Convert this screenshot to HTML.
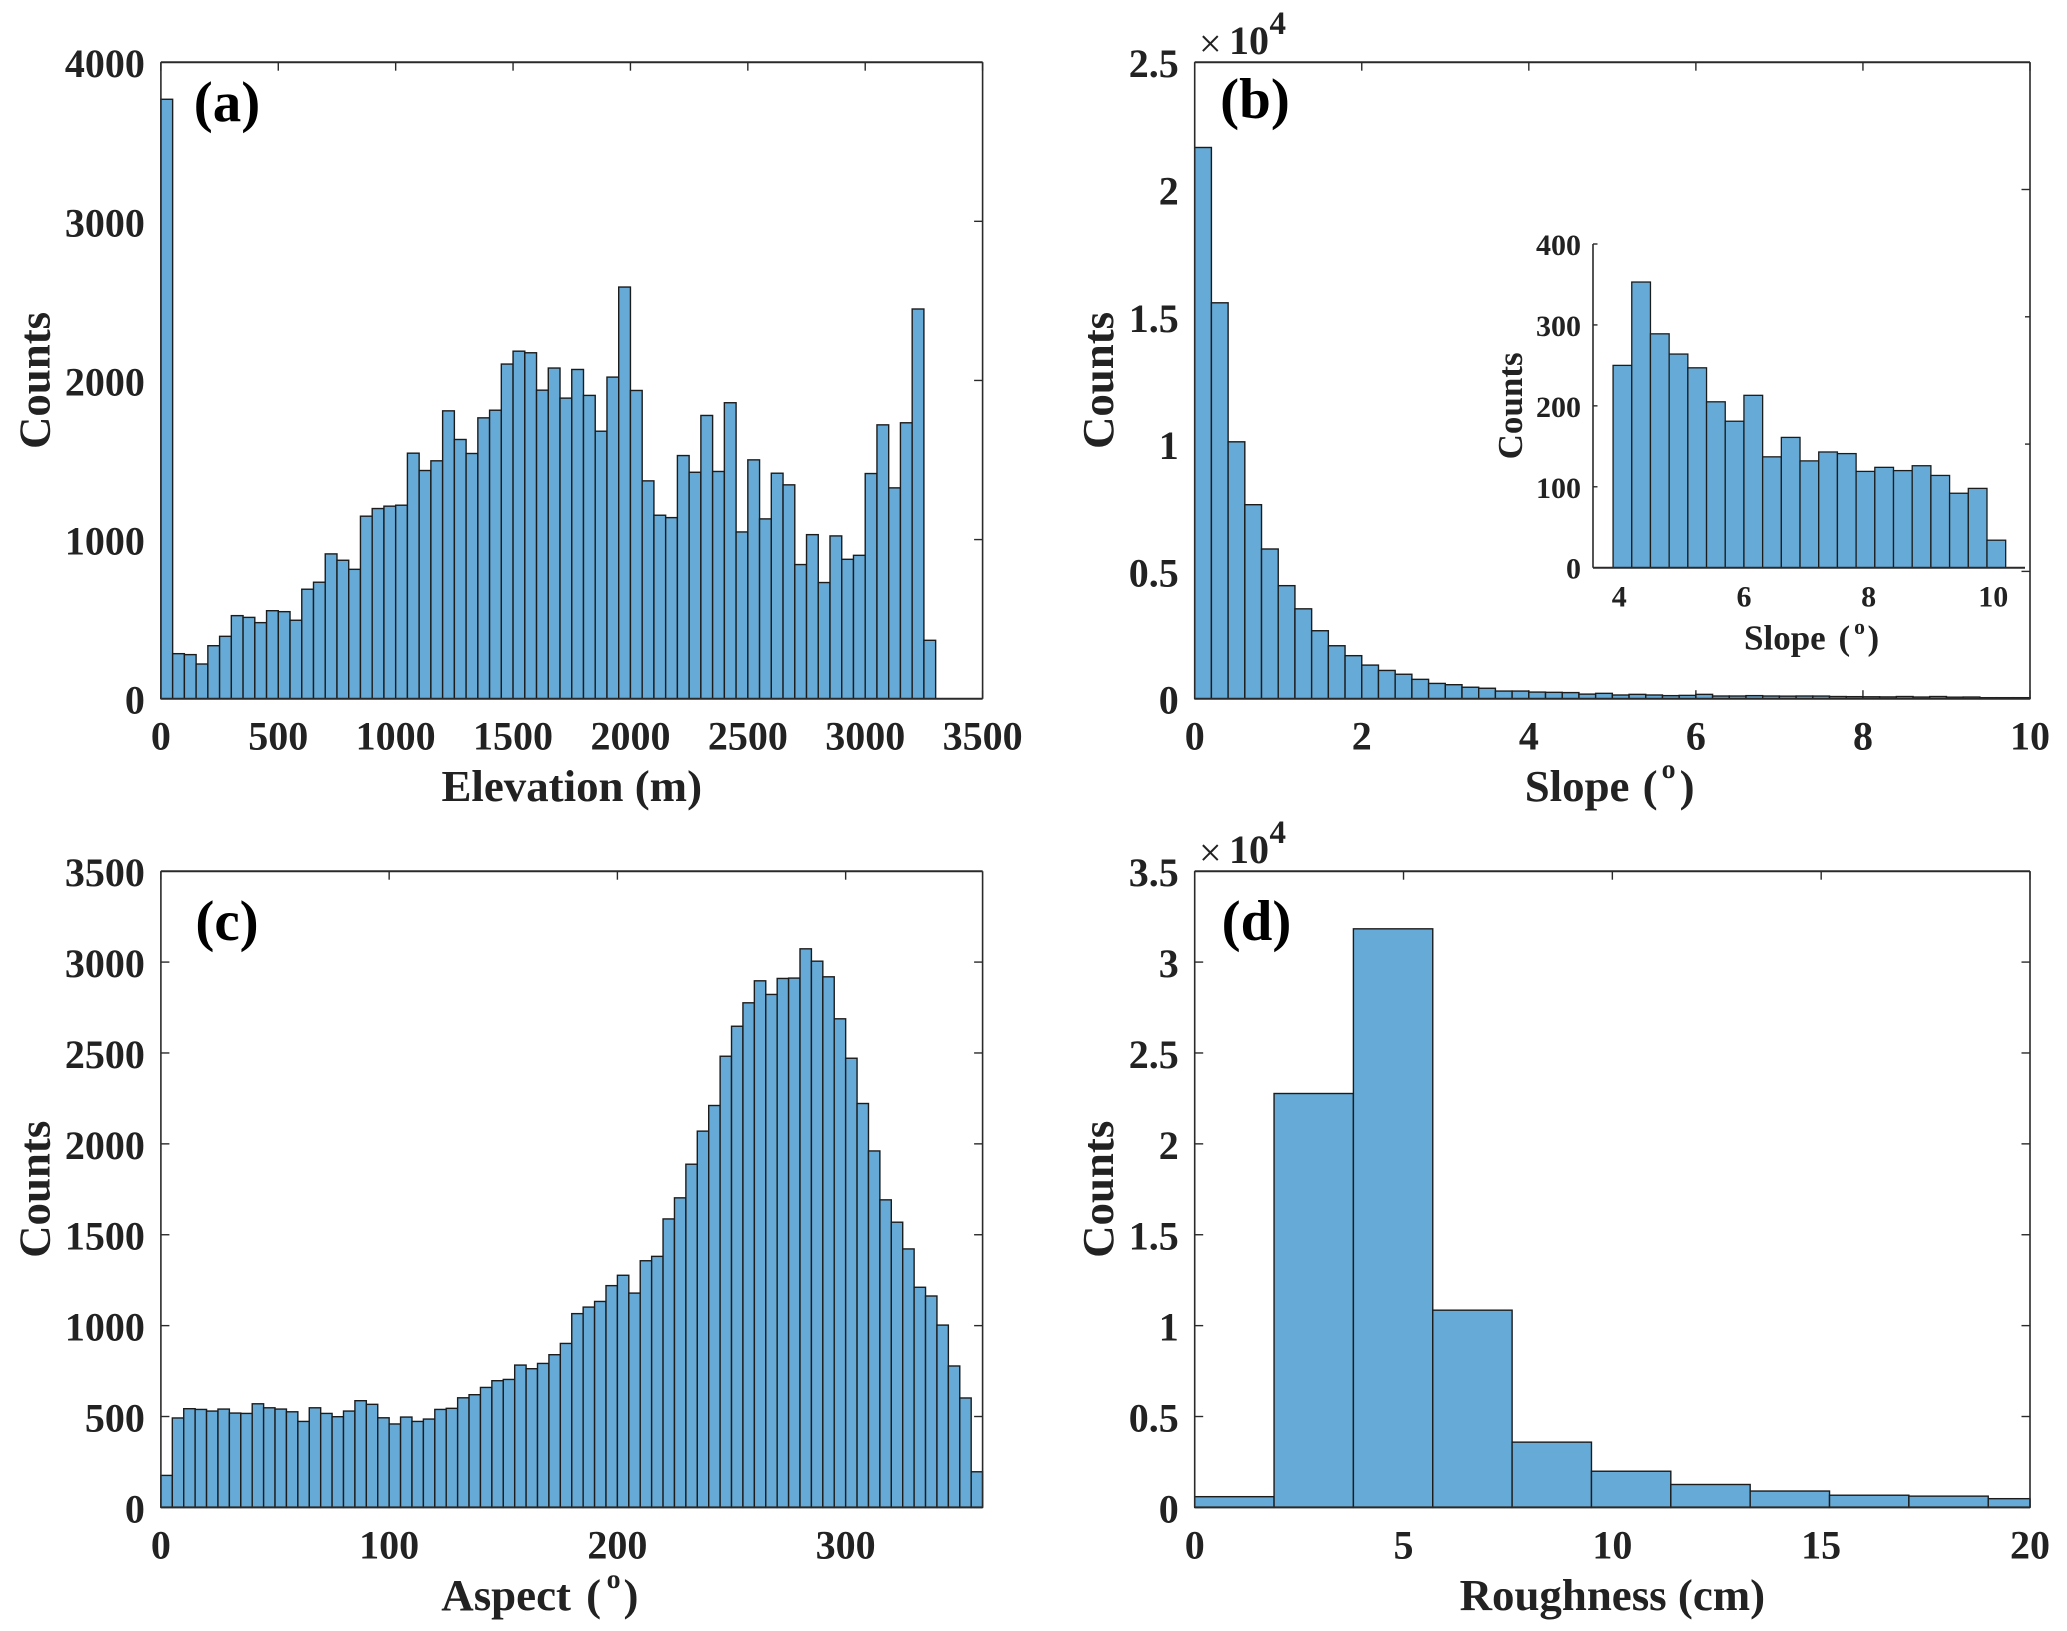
<!DOCTYPE html>
<html lang="en">
<head>
<meta charset="utf-8">
<title>Terrain histograms</title>
<style>
html,body{margin:0;padding:0;background:#fff;}
svg{display:block;}
text{font-family:"Liberation Serif","DejaVu Serif",serif;}
</style>
</head>
<body>
<svg id="fig" xmlns="http://www.w3.org/2000/svg" width="2067" height="1631" viewBox="0 0 2067 1631">
<rect x="0" y="0" width="2067" height="1631" fill="#ffffff"/>
<g id="panel-a"></g>
<g id="panel-b"></g>
<g id="panel-b-inset"></g>
<g id="panel-c"></g>
<g id="panel-d"></g>
</svg>
<script>
const elevationCounts = [3767,283,277,218,333,392,522,511,478,553,547,493,688,732,910,870,813,1147,1195,1210,1216,1543,1434,1495,1809,1629,1541,1765,1813,2103,2184,2174,1939,2078,1889,2069,1906,1681,2021,2587,1937,1369,1153,1138,1528,1423,1780,1428,1860,1048,1501,1130,1417,1344,843,1031,730,1023,876,901,1415,1721,1325,1734,2449,367];
const elevationXTicks = [0,500,1000,1500,2000,2500,3000,3500];
const elevationYTicks = [0,1000,2000,3000,4000];

const slopeCounts = [2.165,1.555,1.009,0.762,0.588,0.444,0.353,0.267,0.208,0.169,0.132,0.111,0.096,0.076,0.060,0.055,0.045,0.041,0.030,0.030,0.026,0.025,0.024,0.018,0.021,0.0145,0.017,0.0145,0.012,0.013,0.017,0.0105,0.0105,0.012,0.0105,0.010,0.0105,0.0103,0.0085,0.008,0.0075,0.007,0.0085,0.0065,0.0085,0.006,0.0065,0.004,0.004,0.004];
const slopeXTicks = [0,2,4,6,8,10];
const slopeYTicks = [0,0.5,1,1.5,2,2.5];

const insetCounts = [250,353,289,264,247,205,181,213,137,161,132,143,141,119,124,120,126,114,92,98,34];
const insetXTicks = [4,6,8,10];
const insetYTicks = [0,100,200,300,400];

const aspectCounts = [176,492,543,539,530,541,519,517,570,548,541,526,473,548,517,499,530,587,567,493,459,497,473,486,539,545,603,620,660,697,704,783,763,792,840,902,1066,1102,1133,1220,1277,1179,1357,1381,1587,1703,1888,2070,2211,2482,2647,2776,2897,2822,2910,2912,3073,3005,2919,2688,2471,2222,1961,1692,1569,1422,1211,1163,1003,778,602,196];
const aspectXTicks = [0,100,200,300];
const aspectYTicks = [0,500,1000,1500,2000,2500,3000,3500];

const roughnessCounts = [0.059,2.277,3.183,1.085,0.359,0.199,0.126,0.090,0.067,0.062,0.048];
const roughnessXTicks = [0,5,10,15,20];
const roughnessYTicks = [0,0.5,1,1.5,2,2.5,3,3.5];

const NS = 'http://www.w3.org/2000/svg';
const BAR_FILL = '#66abd7';
const BAR_EDGE = '#1c1c1c';
const AXIS = '#2a2a2a';
const INK = '#222222';

function make(parent, tag, attrs) {
  const node = document.createElementNS(NS, tag);
  for (const k in attrs) node.setAttribute(k, attrs[k]);
  parent.appendChild(node);
  return node;
}
function line(parent, x1, y1, x2, y2, name, width) {
  const l = make(parent, 'line', {x1: x1, y1: y1, x2: x2, y2: y2, stroke: AXIS, 'stroke-width': width || 1.6});
  
  
  return l;
}
function label(parent, str, x, y, size, anchor, weight, name, fill) {
  const t = make(parent, 'text', {x: x, y: y, 'font-size': size, 'text-anchor': anchor, 'font-weight': weight, fill: fill || INK});
  t.textContent = str;
  
  
  return t;
}

function drawPanel(g, p) {
  const sx = v => p.left + (v - p.xMin) / (p.xMax - p.xMin) * (p.right - p.left);
  const sy = v => p.bottom - (v - p.yMin) / (p.yMax - p.yMin) * (p.bottom - p.top);

  if (p.inset) {
    const bg = make(g, 'rect', {x: p.left, y: p.top, width: p.right - p.left, height: p.bottom - p.top, fill: '#ffffff'});
    
    
  }

  // ticks beneath the bars
  p.xTicks.forEach(v => {
    const x = sx(v);
    line(g, x, p.bottom, x, p.bottom - p.tick, 'x-tick-' + v, 1.4);
    if (!p.inset) line(g, x, p.top, x, p.top + p.tick, 'x-tick-top-' + v, 1.4);
    label(g, String(v), x, p.bottom + p.xLabelGap, p.fontSize, 'middle', 'bold', 'x-tick-label-' + v);
  });
  p.yTicks.forEach(v => {
    const y = sy(v);
    line(g, p.left, y, p.left + p.tick, y, 'y-tick-' + v, 1.4);
    if (!p.inset) line(g, p.right, y, p.right - p.tick, y, 'y-tick-right-' + v, 1.4);
    label(g, String(v), p.left - p.yLabelGap, y + p.yLabelShift, p.fontSize, 'end', 'bold', 'y-tick-label-' + v);
  });

  // bars
  p.values.forEach((v, i) => {
    const x0 = sx(p.binStart + i * p.binWidth);
    const x1 = sx(Math.min(p.binStart + (i + 1) * p.binWidth, p.xMax));
    const y = sy(v);
    const bar = make(g, 'rect', {x: x0, y: y, width: x1 - x0, height: p.bottom - y, fill: BAR_FILL, stroke: BAR_EDGE, 'stroke-width': p.barStroke});
    
    
  });

  // axes frame on top
  line(g, p.left, p.top, p.left, p.bottom, 'y-axis-line');
  line(g, p.left, p.bottom, p.right, p.bottom, 'x-axis-line', 2);
  if (!p.inset) {
    line(g, p.left, p.top, p.right, p.top, 'top-axis-line', 2);
    line(g, p.right, p.top, p.right, p.bottom, 'right-axis-line');
  }
}

function axisTitles(g, p, xParts) {
  const cx = (p.left + p.right) / 2;
  if (xParts.length === 1) {
    label(g, xParts[0], cx, p.bottom + p.xTitleGap, p.titleSize, 'middle', 'bold', 'x-axis-title');
  } else {
    const t = label(g, xParts[0], p.titleStart, p.bottom + p.xTitleGap, p.titleSize, 'start', 'bold', 'x-axis-title');
    t.setAttribute('word-spacing', p.wordSpace);
    const sup = make(t, 'tspan', {dx: p.supDx, dy: p.supDy, 'font-size': p.titleSize * 0.62});
    sup.textContent = xParts[1];
    const end = make(t, 'tspan', {dx: p.endDx, dy: -p.supDy});
    end.textContent = xParts[2];
  }
  const cy = (p.top + p.bottom) / 2;
  const yt = label(g, 'Counts', p.yTitleX, cy, p.titleSize, 'middle', 'bold', 'y-axis-title');
  yt.setAttribute('transform', 'rotate(-90 ' + p.yTitleX + ' ' + cy + ')');
}

function exponent(g, p) {
  label(g, '\u00d7', p.left + 4.3, p.top - 5, 40, 'start', 'normal', 'exponent-times');
  label(g, '10', p.left + 34.3, p.top - 8, 40, 'start', 'bold', 'exponent-base');
  label(g, '4', p.left + 74.8, p.top - 28, 33, 'start', 'bold', 'exponent-power');
}

const common = {yMin: 0, tick: 8.5, fontSize: 40, xLabelGap: 51, yLabelGap: 16, yLabelShift: 15, barStroke: 1.4, titleSize: 44.9, xTitleGap: 102.5};

const panelA = Object.assign({}, common, {left: 160.9, right: 982.6, top: 62.2, bottom: 698.7, xMin: 0, xMax: 3500, yMax: 4000,
  values: elevationCounts, binStart: 0, binWidth: 50, xTicks: elevationXTicks, yTicks: elevationYTicks, yTitleX: 49.5});
const panelB = Object.assign({}, common, {left: 1194.7, right: 2030, top: 62.2, bottom: 698.7, xMin: 0, xMax: 10, yMax: 2.5,
  values: slopeCounts, binStart: 0, binWidth: 0.2, xTicks: slopeXTicks, yTicks: slopeYTicks, yTitleX: 1113,
  titleStart: 1524.7, wordSpace: 2, supDx: 4, supDy: -23, endDx: 4});
const panelInset = Object.assign({}, common, {inset: true, left: 1593, right: 2025, top: 244, bottom: 567.7, xMin: 3.578, xMax: 10.51, yMax: 400,
  values: insetCounts, binStart: 3.9, binWidth: 0.3, xTicks: insetXTicks, yTicks: insetYTicks, tick: 4.5, fontSize: 30, xLabelGap: 39, yLabelGap: 12, yLabelShift: 11,
  barStroke: 1.3, titleSize: 35, xTitleGap: 81.6, yTitleX: 1522,
  titleStart: 1744, wordSpace: 4, supDx: 4, supDy: -15.5, endDx: 2.5});
const panelC = Object.assign({}, common, {left: 160.9, right: 982.6, top: 871.2, bottom: 1507.4, xMin: 0, xMax: 360, yMax: 3500,
  values: aspectCounts, binStart: 0, binWidth: 5, xTicks: aspectXTicks, yTicks: aspectYTicks, yTitleX: 49.5,
  titleStart: 441.3, wordSpace: 4, supDx: 5.5, supDy: -22, endDx: 3});
const panelD = Object.assign({}, common, {left: 1194.7, right: 2030, top: 871.2, bottom: 1507.4, xMin: 0, xMax: 20, yMax: 3.5,
  values: roughnessCounts, binStart: 0, binWidth: 1.9, xTicks: roughnessXTicks, yTicks: roughnessYTicks, yTitleX: 1113});

const gA = document.getElementById('panel-a');
drawPanel(gA, panelA);
axisTitles(gA, panelA, ['Elevation (m)']);
label(gA, '(a)', 227, 121, 57, 'middle', 'bold', 'panel-label-a', '#000000');

const gB = document.getElementById('panel-b');
drawPanel(gB, panelB);
axisTitles(gB, panelB, ['Slope (', 'o', ')']);
exponent(gB, panelB);
label(gB, '(b)', 1255, 118, 57, 'middle', 'bold', 'panel-label-b', '#000000');

const gI = document.getElementById('panel-b-inset');
drawPanel(gI, panelInset);
axisTitles(gI, panelInset, ['Slope (', 'o', ')']);

const gC = document.getElementById('panel-c');
drawPanel(gC, panelC);
axisTitles(gC, panelC, ['Aspect (', 'o', ')']);
label(gC, '(c)', 227, 940, 57, 'middle', 'bold', 'panel-label-c', '#000000');

const gD = document.getElementById('panel-d');
drawPanel(gD, panelD);
axisTitles(gD, panelD, ['Roughness (cm)']);
exponent(gD, panelD);
label(gD, '(d)', 1256.5, 940, 57, 'middle', 'bold', 'panel-label-d', '#000000');
</script>
</body>
</html>
